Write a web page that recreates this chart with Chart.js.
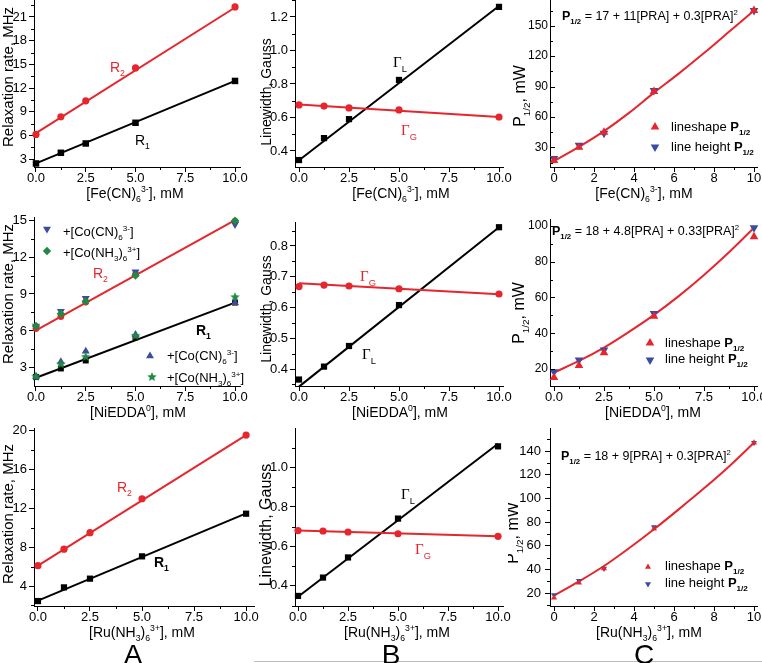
<!DOCTYPE html>
<html>
<head>
<meta charset="utf-8">
<script src="https://cdn.jsdelivr.net/npm/chart.js@4/dist/chart.umd.min.js"></script>
<style>
  body { margin: 0; background: #fff; overflow: hidden; }
  #wrap { position: relative; width: 762px; height: 663px; overflow: hidden; background: #fff; }
  #wrap canvas { position: absolute; }
</style>
</head>
<body>
<div id="wrap"></div>
<script>
// ---- data ----
const conc = [0, 1.25, 2.5, 5, 10];           // mM
const fitX = [0, 10];
const curveX = [0, 1.25, 2.5, 3.75, 5, 6.25, 7.5, 8.75, 10];

// row 1: [Fe(CN)6]3-
const feR1 = [2.45, 3.8, 4.98, 7.6, 12.9];
const feR2 = [6.12, 8.35, 10.38, 14.55, 22.27];
const feR1Fit = [2.45, 12.9];
const feR2Fit = [6.3, 22.2];
const feGL = [0.346, 0.477, 0.59, 0.824, 1.26];
const feGG = [0.675, 0.668, 0.657, 0.645, 0.603];
const feGLFit = [0.345, 1.265];
const feGGFit = [0.678, 0.603];
const feShape = [17, 30, 45, 85, 165];
const feHeight = [19, 32, 44, 86, 165];
const feCurve = [16.5, 30.5, 46, 64, 84, 103, 123, 144, 165];

// row 2: NiEDDA
const niR1 = [2.27, 2.95, 3.6, 5.48, 8.3];
const niR2 = [6.2, 7.17, 8.35, 10.6, 14.9];
const niR1CoCN = [2.3, 3.5, 4.35, 5.7, 8.3];
const niR1CoNH = [2.3, 3.3, 3.9, 5.6, 8.75];
const niR2CoCN = [6.4, 7.6, 8.65, 10.8, 14.65];
const niR2CoNH = [6.4, 7.4, 8.4, 10.5, 14.95];
const niR1Fit = [2.2, 8.3];
const niR2Fit = [6.05, 15.0];
const niGL = [0.366, 0.408, 0.475, 0.608, 0.861];
const niGG = [0.668, 0.673, 0.670, 0.661, 0.644];
const niGLFit = [0.343, 0.861];
const niGGFit = [0.679, 0.643];
const niShape = [15.3, 21.9, 29.1, 49.5, 94];
const niHeight = [18.5, 25, 30.6, 51, 99];
const niCurve = [18, 24.5, 32, 40.8, 50.3, 60.9, 72.6, 85.3, 99];

// row 3: [Ru(NH3)6]3+
const ruR1 = [2.45, 3.86, 4.76, 7.06, 11.46];
const ruR2 = [6.1, 7.8, 9.5, 13.0, 19.57];
const ruR1Fit = [2.5, 11.5];
const ruR2Fit = [6.1, 19.57];
const ruGL = [0.349, 0.442, 0.544, 0.741, 1.107];
const ruGG = [0.68, 0.678, 0.673, 0.664, 0.651];
const ruGLFit = [0.345, 1.12];
const ruGGFit = [0.680, 0.651];
const ruShape = [16.3, 29, 41, 74.5, 147];
const ruHeight = [18.6, 30.5, 41, 76, 147];
const ruCurve = [18, 30, 43, 58, 74, 91, 108.5, 127, 147];

// tick labels
const xTicksA = [0, 2.5, 5, 7.5, 10];
const xTicksC = [0, 2, 4, 6, 8, 10];
const yTicksA1 = [3, 6, 9, 12, 15, 18, 21];
const yTicksB1 = [0.4, 0.6, 0.8, 1.0, 1.2];
const yTicksC1 = [30, 60, 90, 120, 150];
const yTicksA2 = [3, 6, 9, 12, 15];
const yTicksB2 = [0.4, 0.5, 0.6, 0.7, 0.8];
const yTicksC2 = [20, 40, 60, 80, 100];
const yTicksA3 = [4, 8, 12, 16, 20];
const yTicksB3 = [0.4, 0.6, 0.8, 1.0];
const yTicksC3 = [20, 40, 60, 80, 100, 120, 140];

// ---- styling ----
const RED = '#e5262d', BLUE = '#3c4b9f', GREEN = '#208a45', BLACK = '#000';
const SANS = 'Liberation Sans', SERIF = 'Liberation Serif';

let pts = (xs, ys) => xs.map((x, i) => ({x: x, y: ys[i]}));

let starImg = function(color, r) {
  const c = document.createElement('canvas');
  const s = Math.ceil(r * 2) + 2;
  c.width = s; c.height = s;
  const g = c.getContext('2d');
  g.fillStyle = color;
  g.beginPath();
  for (let i = 0; i < 10; i++) {
    const a = -Math.PI / 2 + i * Math.PI / 5;
    const rr = i % 2 ? r * 0.45 : r;
    g.lineTo(s / 2 + rr * Math.cos(a), s / 2 + rr * Math.sin(a));
  }
  g.closePath();
  g.fill();
  return c;
};
const STAR = starImg(GREEN, 5);

let marks = function(ys, style, color, r, rot) {
  return {data: pts(conc, ys), pointStyle: style, rotation: rot || 0, pointRadius: r,
    backgroundColor: color, borderColor: color, borderWidth: 0, showLine: false, clip: false};
};
let fit = function(ys, color) {
  return {data: pts(fitX, ys), showLine: true, pointRadius: 0, borderColor: color, borderWidth: 2, clip: false};
};
let curve = function(ys, color) {
  return {data: pts(curveX, ys), showLine: true, pointRadius: 0, borderColor: color, borderWidth: 2,
    cubicInterpolationMode: 'monotone', clip: false};
};

// rich text: segments are strings or [text, mode]; mode tokens: B bold, lo sub, hi sup, S serif
let drawRich = function(ctx, t, ox, oy) {
  const size = t.size || 13;
  const parts = t.s.map(p => typeof p === 'string' ? {txt: p, m: ''} : {txt: p[0], m: p[1]});
  const fontOf = (m) => {
    const small = m.includes('lo') || m.includes('hi');
    const fam = m.includes('S') ? SERIF : SANS;
    return (m.includes('B') ? 'bold ' : '') + (small ? size * 0.62 : size).toFixed(1) + 'px "' + fam + '"';
  };
  ctx.save();
  ctx.fillStyle = t.color || BLACK;
  ctx.textBaseline = 'alphabetic';
  ctx.textAlign = 'left';
  let w = 0;
  parts.forEach(p => { ctx.font = fontOf(p.m); p.w = ctx.measureText(p.txt).width; w += p.w; });
  ctx.translate(t.x - ox, t.y - oy);
  if (t.rot) ctx.rotate(-Math.PI / 2);
  let x = t.align === 'left' ? 0 : -w / 2;
  parts.forEach(p => {
    ctx.font = fontOf(p.m);
    const dy = p.m.includes('lo') ? size * 0.3 : (p.m.includes('hi') ? -size * 0.42 : 0);
    ctx.fillText(p.txt, x, dy);
    x += p.w;
  });
  ctx.restore();
};

const extras = {
  id: 'extras',
  afterDraw(chart, args, o) {
    const ctx = chart.ctx;
    const a = chart.chartArea;
    const xs = chart.scales.x, ys = chart.scales.y;
    ctx.save();
    ctx.strokeStyle = BLACK;
    ctx.lineWidth = 1;
    // minor ticks (and inward major ticks where the axis uses them)
    const minor = (ticks, step, min, max) => {
      const out = [];
      for (let v = ticks[0] - step; v <= max + 1e-9; v += 2 * step) if (v >= min) out.push(v);
      return out;
    };
    minor(o.xTicks, o.xMinor, xs.min, xs.max).forEach(v => {
      const px = Math.round(xs.getPixelForValue(v)) + 0.5;
      ctx.beginPath(); ctx.moveTo(px, a.bottom); ctx.lineTo(px, a.bottom + 3); ctx.stroke();
    });
    const dir = o.yIn ? 1 : -1;
    minor(o.yTicks, o.yMinor, ys.min, ys.max).forEach(v => {
      const py = Math.round(ys.getPixelForValue(v)) + 0.5;
      ctx.beginPath(); ctx.moveTo(a.left, py); ctx.lineTo(a.left + dir * 3, py); ctx.stroke();
    });
    if (o.yIn) {
      o.yTicks.forEach(v => {
        const py = Math.round(ys.getPixelForValue(v)) + 0.5;
        ctx.beginPath(); ctx.moveTo(a.left, py); ctx.lineTo(a.left + 5, py); ctx.stroke();
      });
    }
    ctx.restore();
    // legend markers
    (o.markers || []).forEach(m => {
      ctx.save();
      ctx.fillStyle = m.color; ctx.strokeStyle = m.color;
      Chart.helpers.drawPoint(ctx, {pointStyle: m.style, rotation: m.rot || 0, radius: m.r, borderWidth: 0},
        m.x - o.ox, m.y - o.oy);
      ctx.restore();
    });
    (o.lines || []).forEach(l => {
      ctx.save();
      ctx.strokeStyle = l.color; ctx.lineWidth = 1;
      ctx.beginPath(); ctx.moveTo(l.x1 - o.ox, l.y1 - o.oy); ctx.lineTo(l.x2 - o.ox, l.y2 - o.oy); ctx.stroke();
      ctx.restore();
    });
    (o.texts || []).forEach(t => drawRich(ctx, t, o.ox, o.oy));
  }
};

const wrap = document.getElementById('wrap');

let makePanel = function(p) {
  const cx = p.col, cy = p.area.T - 12;
  const cw = p.area.R + 16 - cx;
  const ch = (p.bottomEdge || p.area.B + 44) - cy;
  const cv = document.createElement('canvas');
  cv.width = cw; cv.height = ch;
  cv.style.left = cx + 'px'; cv.style.top = cy + 'px';
  cv.style.width = cw + 'px'; cv.style.height = ch + 'px';
  wrap.appendChild(cv);

  const axis = (ax, pad, fitFn) => ({
    type: 'linear', min: ax.min, max: ax.max,
    afterBuildTicks: (s) => { s.ticks = ax.ticks.map(v => ({value: v})); },
    afterFit: fitFn,
    grid: {drawOnChartArea: false, tickLength: ax.inward ? 0 : 5, color: BLACK, tickColor: BLACK, lineWidth: 1},
    border: {display: true, color: BLACK, width: 1},
    ticks: {color: BLACK, font: {family: SANS, size: ax.font || 13}, padding: pad, autoSkip: false, maxRotation: 0,
      callback: (v) => ax.dec ? v.toFixed(ax.dec) : String(v)}
  });

  new Chart(cv, {
    type: 'scatter',
    data: {datasets: p.datasets},
    options: {
      responsive: false, animation: false, devicePixelRatio: 1,
      layout: {padding: {top: 12, right: cx + cw - p.area.R, left: 0, bottom: 0}},
      events: [],
      plugins: {
        legend: {display: false}, tooltip: {enabled: false},
        extras: {ox: cx, oy: cy, xTicks: p.x.ticks, xMinor: p.x.minor, yTicks: p.y.ticks, yMinor: p.y.minor,
          yIn: !!p.y.inward, texts: p.texts, markers: p.markers, lines: p.lines}
      },
      scales: {
        x: axis(p.x, -1, (s) => { s.height = cy + ch - p.area.B; }),
        y: axis(p.y, p.y.inward ? 2 : (p.y.pad || 2), (s) => { s.width = p.area.L - cx; })
      }
    },
    plugins: [extras]
  });
};

// ---- labels ----
const feLbl = ['[Fe(CN)', ['6', 'lo'], ['3-', 'hi'], '], mM'];
const niLbl = ['[NiEDDA', ['0', 'hi'], '], mM'];
const ruLbl = ['[Ru(NH', ['3', 'lo'], ')', ['6', 'lo'], ['3+', 'hi'], '], mM'];
const relax = ['Relaxation rate, MHz'];
const lw = ['Linewidth, Gauss'];
const phalf = ['P', ['1/2', 'lo'], ', mW'];
const R1 = ['R', ['1', 'lo']];
const R2 = ['R', ['2', 'lo']];
const GL = [['\u0393', 'S'], ['L', 'lo']];
const GG = [['\u0393', 'S'], ['G', 'lo']];
const shapeTxt = ['lineshape ', ['P', 'B'], ['1/2', 'Blo']];
const heightTxt = ['line height ', ['P', 'B'], ['1/2', 'Blo']];
const coCN = ['+[Co(CN)', ['6', 'lo'], ['3-', 'hi'], ']'];
const coNH = ['+[Co(NH', ['3', 'lo'], ')', ['6', 'lo'], ['3+', 'hi'], ']'];
const eq1 = [['P', 'B'], ['1/2', 'Blo'], ' = 17 + 11[PRA] + 0.3[PRA]', ['2', 'hi']];
const eq2 = [['P', 'B'], ['1/2', 'Blo'], ' = 18 + 4.8[PRA] + 0.33[PRA]', ['2', 'hi']];
const eq3 = [['P', 'B'], ['1/2', 'Blo'], ' = 18 + 9[PRA] + 0.3[PRA]', ['2', 'hi']];

const xA = {min: -0.1, max: 10.25, ticks: xTicksA, minor: 1.25, dec: 1};
const xA3 = {min: -0.19, max: 10.38, ticks: xTicksA, minor: 1.25, dec: 1};
const xB = {min: -0.2, max: 10.2, ticks: xTicksA, minor: 1.25, dec: 1};
const xC = {min: -0.2, max: 10.15, ticks: xTicksC, minor: 1, dec: 0};
const xC2 = {min: -0.2, max: 10.15, ticks: xTicksA, minor: 1.25, dec: 1};

// ---- row 1 ----
makePanel({col: 0, area: {L: 34, T: 0, R: 240, B: 167},
  x: xA, y: {min: 2, max: 23.15, ticks: yTicksA1, minor: 1.5, dec: 0},
  datasets: [marks(feR2, 'circle', RED, 3.6), marks(feR1, 'rect', BLACK, 4.6),
    fit(feR2Fit, RED), fit(feR1Fit, BLACK)],
  texts: [
    {x: 13, y: 77, s: relax, size: 15, rot: true},
    {x: 135, y: 198, s: feLbl, size: 14},
    {x: 110, y: 72, s: R2, size: 14, color: RED, align: 'left'},
    {x: 135, y: 145, s: R1, size: 14, align: 'left'}
  ]});

makePanel({col: 254, area: {L: 295, T: 0, R: 503, B: 167},
  x: xB, y: {min: 0.3045, max: 1.301, ticks: yTicksB1, minor: 0.1, dec: 1},
  datasets: [marks(feGG, 'circle', RED, 3.6), marks(feGL, 'rect', BLACK, 4.4),
    fit(feGGFit, RED), fit(feGLFit, BLACK)],
  texts: [
    {x: 271, y: 92, s: lw, size: 14, rot: true},
    {x: 401, y: 198, s: feLbl, size: 14},
    {x: 393, y: 67, s: GL, size: 15, align: 'left'},
    {x: 401, y: 135, s: GG, size: 15, color: RED, align: 'left'}
  ]});

makePanel({col: 508, area: {L: 550, T: 0, R: 757, B: 167},
  x: xC, y: {min: 10.6, max: 175.4, ticks: yTicksC1, minor: 15, dec: 0, inward: true, font: 12},
  datasets: [marks(feShape, 'triangle', RED, 5), marks(feHeight, 'triangle', BLUE, 5, 180),
    curve(feCurve, RED)],
  markers: [{x: 655, y: 127, style: 'triangle', r: 5, color: RED},
    {x: 655, y: 147, style: 'triangle', rot: 180, r: 5, color: BLUE}],
  texts: [
    {x: 525, y: 96, s: phalf, size: 16, rot: true},
    {x: 644, y: 198, s: feLbl, size: 14},
    {x: 562, y: 20, s: eq1, size: 12.5, align: 'left'},
    {x: 671, y: 131, s: shapeTxt, size: 13, align: 'left'},
    {x: 671, y: 151, s: heightTxt, size: 13, align: 'left'}
  ]});

// ---- row 2 ----
makePanel({col: 0, area: {L: 34, T: 217, R: 240, B: 386},
  x: xA, y: {min: 1.53, max: 15.25, ticks: yTicksA2, minor: 1.5, dec: 0},
  datasets: [
    marks(niR2CoNH, 'rectRot', GREEN, 4.2), marks(niR2CoCN, 'triangle', BLUE, 4.6, 180),
    marks(niR1CoNH, STAR, GREEN, 5), marks(niR1CoCN, 'triangle', BLUE, 4.6),
    marks(niR2, 'circle', RED, 3.4), marks(niR1, 'rect', BLACK, 4.2),
    fit(niR2Fit, RED), fit(niR1Fit, BLACK)],
  markers: [{x: 47, y: 229, style: 'triangle', rot: 180, r: 4.6, color: BLUE},
    {x: 47, y: 251, style: 'rectRot', r: 4.2, color: GREEN},
    {x: 150, y: 356, style: 'triangle', r: 4.6, color: BLUE},
    {x: 152, y: 377, style: STAR, r: 5, color: GREEN}],
  texts: [
    {x: 13, y: 294, s: relax, size: 15, rot: true},
    {x: 138, y: 417, s: niLbl, size: 14},
    {x: 63, y: 236, s: coCN, size: 13, align: 'left'},
    {x: 63, y: 257, s: coNH, size: 13, align: 'left'},
    {x: 167, y: 360, s: coCN, size: 13, align: 'left'},
    {x: 167, y: 382, s: coNH, size: 13, align: 'left'},
    {x: 93, y: 278, s: R2, size: 14, color: RED, align: 'left'},
    {x: 196, y: 335, s: [['R', 'B'], ['1', 'Blo']], size: 14, align: 'left'}
  ]});

makePanel({col: 254, area: {L: 295, T: 222, R: 503, B: 386},
  x: xB, y: {min: 0.345, max: 0.878, ticks: yTicksB2, minor: 0.05, dec: 1},
  datasets: [marks(niGG, 'circle', RED, 3.6), marks(niGL, 'rect', BLACK, 4.4),
    fit(niGGFit, RED), fit(niGLFit, BLACK)],
  texts: [
    {x: 271, y: 309, s: lw, size: 14, rot: true},
    {x: 400, y: 417, s: niLbl, size: 14},
    {x: 360, y: 281, s: GG, size: 15, color: RED, align: 'left'},
    {x: 362, y: 359, s: GL, size: 15, align: 'left'}
  ]});

makePanel({col: 508, area: {L: 550, T: 219, R: 757, B: 386},
  x: xC2, y: {min: 10.5, max: 103.9, ticks: yTicksC2, minor: 10, dec: 0, inward: true, font: 12},
  datasets: [marks(niShape, 'triangle', RED, 5), marks(niHeight, 'triangle', BLUE, 5, 180),
    curve(niCurve, RED)],
  markers: [{x: 650, y: 343, style: 'triangle', r: 5, color: RED},
    {x: 650, y: 360, style: 'triangle', rot: 180, r: 5, color: BLUE}],
  texts: [
    {x: 524, y: 313, s: phalf, size: 16, rot: true},
    {x: 653, y: 417, s: niLbl, size: 14},
    {x: 552, y: 235, s: eq2, size: 12.5, align: 'left'},
    {x: 665, y: 347, s: shapeTxt, size: 13, align: 'left'},
    {x: 665, y: 363, s: heightTxt, size: 13, align: 'left'}
  ]});

// ---- row 3 ----
makePanel({col: 0, area: {L: 34, T: 428, R: 254, B: 606}, bottomEdge: 663,
  x: xA3, y: {min: 1.94, max: 20.3, ticks: yTicksA3, minor: 2, dec: 0},
  datasets: [marks(ruR2, 'circle', RED, 3.6), marks(ruR1, 'rect', BLACK, 4.4),
    fit(ruR2Fit, RED), fit(ruR1Fit, BLACK)],
  texts: [
    {x: 13, y: 514, s: relax, size: 15, rot: true},
    {x: 142, y: 637, s: ruLbl, size: 14},
    {x: 117, y: 492, s: R2, size: 14, color: RED, align: 'left'},
    {x: 154, y: 567, s: [['R', 'B'], ['1', 'Blo']], size: 14, align: 'left'},
    {x: 133, y: 664, s: ['A'], size: 28}
  ]});

makePanel({col: 254, area: {L: 295, T: 428, R: 503, B: 606}, bottomEdge: 663,
  x: {min: -0.15, max: 10.25, ticks: xTicksA, minor: 1.25, dec: 1},
  y: {min: 0.298, max: 1.2, ticks: yTicksB3, minor: 0.1, dec: 1},
  datasets: [marks(ruGG, 'circle', RED, 3.6), marks(ruGL, 'rect', BLACK, 4.4),
    fit(ruGGFit, RED), fit(ruGLFit, BLACK)],
  lines: [{x1: 254, y1: 661.5, x2: 520, y2: 661.5, color: '#bbbbbb'}],
  texts: [
    {x: 271, y: 525, s: lw, size: 16, rot: true},
    {x: 397, y: 637, s: ruLbl, size: 14},
    {x: 401, y: 499, s: GL, size: 15, align: 'left'},
    {x: 415, y: 554, s: GG, size: 15, color: RED, align: 'left'},
    {x: 391, y: 664, s: ['B'], size: 28}
  ]});

makePanel({col: 508, area: {L: 550, T: 428, R: 757, B: 606}, bottomEdge: 663,
  x: xC, y: {min: 9.3, max: 159.4, ticks: yTicksC3, minor: 10, dec: 0, pad: 4},
  datasets: [marks(ruShape, 'triangle', RED, 3.5), marks(ruHeight, 'triangle', BLUE, 3.5, 180),
    curve(ruCurve, RED)],
  markers: [{x: 648, y: 567, style: 'triangle', r: 3.5, color: RED},
    {x: 648, y: 584, style: 'triangle', rot: 180, r: 3.5, color: BLUE}],
  lines: [{x1: 508, y1: 661.5, x2: 775, y2: 661.5, color: '#bbbbbb'}],
  texts: [
    {x: 518, y: 533, s: phalf, size: 16, rot: true},
    {x: 649, y: 637, s: ruLbl, size: 14},
    {x: 561, y: 460, s: eq3, size: 12.5, align: 'left'},
    {x: 665, y: 570, s: shapeTxt, size: 13, align: 'left'},
    {x: 665, y: 587, s: heightTxt, size: 13, align: 'left'},
    {x: 644, y: 664, s: ['C'], size: 28}
  ]});
</script>
</body>
</html>
